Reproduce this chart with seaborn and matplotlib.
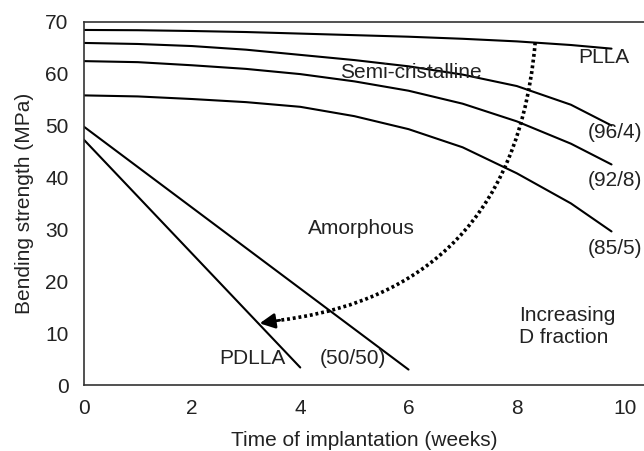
import matplotlib
matplotlib.use("Agg")
import matplotlib.pyplot as plt
from matplotlib.path import Path
from matplotlib.patches import PathPatch
import seaborn as sns
import pandas as pd

# ---- data ----
weeks_semi = [0, 1, 2, 3, 4, 5, 6, 7, 8, 9, 9.75]
plla = [68.4, 68.35, 68.2, 68.0, 67.7, 67.4, 67.1, 66.7, 66.2, 65.5, 64.8]
r96_4 = [65.9, 65.7, 65.3, 64.6, 63.6, 62.6, 61.4, 59.8, 57.6, 54.0, 50.0]
r92_8 = [62.4, 62.2, 61.6, 60.9, 59.9, 58.5, 56.7, 54.2, 50.8, 46.5, 42.5]
r85_5 = [55.8, 55.6, 55.1, 54.5, 53.6, 51.8, 49.3, 45.8, 40.8, 35.0, 29.6]

weeks_pdlla = [0, 4]
pdlla = [47.3, 3.4]
weeks_5050 = [0, 6]
r50_50 = [49.8, 3.0]

# curved "increasing D fraction" arrow: start, two Bezier handles, end, tip
arrow_ctrl_x = [8.34, 8.0, 5.5, 3.62]
arrow_ctrl_y = [66.0, 25.0, 15.0, 12.5]
arrow_tip = (3.25, 11.9)

x_ticks = [0, 2, 4, 6, 8, 10]
y_ticks = [0, 10, 20, 30, 40, 50, 60, 70]

series = {
    "PLLA": (weeks_semi, plla),
    "96/4": (weeks_semi, r96_4),
    "92/8": (weeks_semi, r92_8),
    "85/5": (weeks_semi, r85_5),
    "PDLLA": (weeks_pdlla, pdlla),
    "50/50": (weeks_5050, r50_50),
}
rows = []
for name, (xs, ys) in series.items():
    for i, (a, b) in enumerate(zip(xs, ys)):
        rows.append({"series": name, "week": a, "strength": b, "order": i})
df = pd.DataFrame(rows)

sns.set_style("white")
plt.rcParams["font.family"] = ["Liberation Sans", "DejaVu Sans"]

fig = plt.figure(figsize=(6.44, 4.51), dpi=100)
ax = fig.add_axes([0.130, 0.146, 0.870, 0.806])

sns.lineplot(data=df, x="week", y="strength", hue="series", units="series",
             estimator=None, sort=False, palette=["black"] * len(series),
             linewidth=1.5, legend=False, ax=ax)

curve = Path(list(zip(arrow_ctrl_x, arrow_ctrl_y)),
             [Path.MOVETO, Path.CURVE4, Path.CURVE4, Path.CURVE4])
ax.add_patch(PathPatch(curve, transform=ax.transData, facecolor="none",
                       edgecolor="black", linewidth=2.6, linestyle=(0, (0.8, 0.8))))
ax.annotate("", xy=arrow_tip, xytext=(arrow_ctrl_x[-1], arrow_ctrl_y[-1]),
            arrowprops=dict(arrowstyle="-|>,head_length=0.9,head_width=0.45",
                            color="black", lw=2.0, shrinkA=0, shrinkB=0))

ax.set_xlim(0, 10.35)
ax.set_ylim(0, 70)
ax.set_xticks(x_ticks)
ax.set_yticks(y_ticks)
ax.tick_params(direction="in", length=5, width=1.1, labelsize=15,
               color="#333333", labelcolor="#222222")
ax.tick_params(axis="x", pad=10)
ax.tick_params(axis="y", pad=11)
ax.set_xlabel("Time of implantation (weeks)", fontsize=15, color="#222222", labelpad=9)
ax.set_ylabel("Bending strength (MPa)", fontsize=15, color="#222222", labelpad=8)

for s in ["left", "bottom", "top"]:
    ax.spines[s].set_visible(True)
    ax.spines[s].set_color("#333333")
    ax.spines[s].set_linewidth(1.2)
ax.spines["right"].set_visible(False)

fs = 15
tc = "#222222"
ax.text(9.13, 63.0, "PLLA", fontsize=fs, color=tc, va="center", ha="left")
ax.text(4.73, 60.3, "Semi-cristalline", fontsize=fs, color=tc, va="center", ha="left")
ax.text(9.32, 48.6, "(96/4)", fontsize=fs, color=tc, va="center", ha="left")
ax.text(9.32, 39.5, "(92/8)", fontsize=fs, color=tc, va="center", ha="left")
ax.text(9.32, 26.4, "(85/5)", fontsize=fs, color=tc, va="center", ha="left")
ax.text(4.14, 30.2, "Amorphous", fontsize=fs, color=tc, va="center", ha="left")
ax.text(8.04, 11.2, "Increasing\nD fraction", fontsize=fs, color=tc, va="center", ha="left")
ax.text(2.51, 5.2, "PDLLA", fontsize=fs, color=tc, va="center", ha="left")
ax.text(4.36, 5.2, "(50/50)", fontsize=fs, color=tc, va="center", ha="left")

fig.savefig("out.png", dpi=100)
